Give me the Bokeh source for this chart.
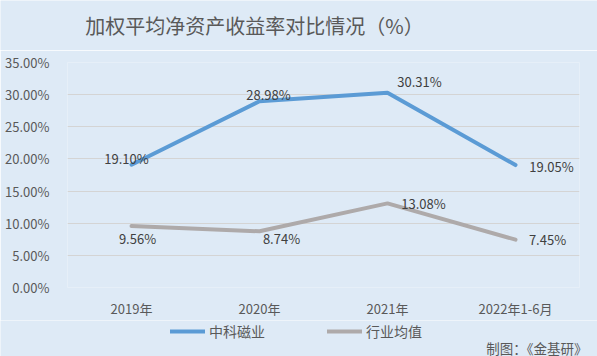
from bokeh.plotting import figure
from bokeh.layouts import column
from bokeh.models import FactorRange, Range1d, ColumnDataSource, Legend, LegendItem, PrintfTickFormatter, FixedTicker, Label
from bokeh.core.properties import value, field
from bokeh.embed import file_html
from bokeh.resources import INLINE

categories = ["2019年", "2020年", "2021年", "2022年1-6月"]
company = [19.10, 28.98, 30.31, 19.05]
industry = [9.56, 8.74, 13.08, 7.45]
company_name = "中科磁业"
industry_name = "行业均值"
y_ticks = [0, 5, 10, 15, 20, 25, 30, 35]
title_text = "加权平均净资产收益率对比情况（%）"
footer_text = "制图：《金基研》"

FONT = "Noto Sans CJK SC"
BG = "#deeaf6"
BLUE = "#5b9bd5"
GRAY = "#aeaaaa"
TXT = "#404040"
LBL = "#595959"
NAN = float("nan")


def strip(h):
    f = figure(width=597, height=h, output_backend="svg", toolbar_location=None,
               x_range=Range1d(0, 597), y_range=Range1d(0, h),
               x_axis_location=None, y_axis_location=None, min_border=0)
    f.background_fill_color = BG
    f.border_fill_color = BG
    f.outline_line_color = None
    f.grid.grid_line_color = None
    f.frame_align = False
    return f


# top strip: title
t = strip(50)
t.add_layout(Label(x=254, y=25, text=title_text, text_align="center", text_baseline="middle",
                   text_font=FONT, text_font_size="20px", text_color=LBL))

# main chart
p = figure(width=597, height=270, output_backend="svg", toolbar_location=None,
           x_range=FactorRange(factors=categories, range_padding=0),
           y_range=Range1d(0, 35),
           min_border_left=67, min_border_right=18, min_border_top=12, min_border_bottom=33)
p.background_fill_color = BG
p.border_fill_color = BG
p.outline_line_color = None
p.frame_align = False

p.xgrid.grid_line_color = None
p.ygrid.grid_line_color = "#d4d4d4"
p.ygrid.grid_line_width = 1

for ax in (p.xaxis, p.yaxis):
    ax.axis_line_color = None
    ax.major_tick_line_color = None
    ax.minor_tick_line_color = None
    ax.major_label_text_font = FONT
    ax.major_label_text_font_size = "13px"
    ax.major_label_text_color = LBL
p.yaxis.ticker = FixedTicker(ticks=y_ticks)
p.yaxis.formatter = PrintfTickFormatter(format="%.2f%%")
p.yaxis.major_label_standoff = 12
p.xaxis.major_label_standoff = 5

src = ColumnDataSource(dict(
    x=categories, c=company, i=industry,
    cl=[f"{v:.2f}%" for v in company], il=[f"{v:.2f}%" for v in industry],
    cdx=[-5, 9, 32, 36], cdy=[-6, -7, -11, 1],
    idx=[6, 22, 36, 32], idy=[12, 7, 0, 0],
))

p.line("x", "c", source=src, line_color=BLUE, line_width=4, line_cap="round", line_join="round")
p.line("x", "i", source=src, line_color=GRAY, line_width=4, line_cap="round", line_join="round")

p.text("x", "c", text="cl", source=src, x_offset=field("cdx"), y_offset=field("cdy"),
       text_align="center", text_baseline="middle", text_font=value(FONT),
       text_font_size="13px", text_color=TXT)
p.text("x", "i", text="il", source=src, x_offset=field("idx"), y_offset=field("idy"),
       text_align="center", text_baseline="middle", text_font=value(FONT),
       text_font_size="13px", text_color=TXT)

# bottom strip: legend + footer
q = strip(36)
l1 = q.line(x=[NAN], y=[NAN], line_color=BLUE, line_width=4, line_cap="round")
l2 = q.line(x=[NAN], y=[NAN], line_color=GRAY, line_width=4, line_cap="round")
legend = Legend(items=[LegendItem(label=company_name, renderers=[l1]),
                       LegendItem(label=industry_name, renderers=[l2])],
                orientation="horizontal", location=(170, 15),
                background_fill_alpha=0, border_line_color=None,
                padding=0, margin=0, spacing=62, label_standoff=4,
                glyph_width=35, glyph_height=16, label_height=16,
                label_text_font=FONT, label_text_font_size="14px", label_text_color=LBL)
q.add_layout(legend, "center")
q.add_layout(Label(x=587, y=9, text=footer_text, text_align="right", text_baseline="middle",
                   text_font=FONT, text_font_size="13.5px", text_color=LBL))

layout = column(t, p, q, spacing=0)
open("out.html", "w").write(file_html(layout, INLINE))
